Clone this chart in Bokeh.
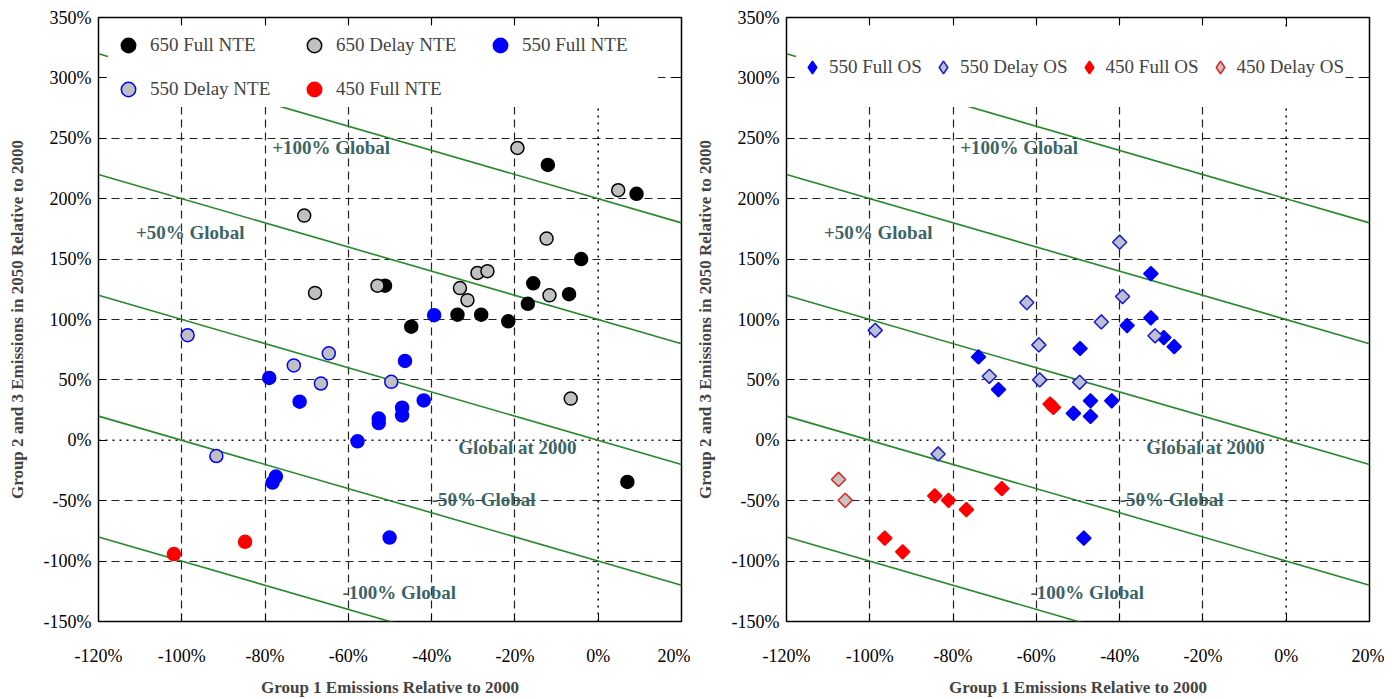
from math import pi

from bokeh.plotting import figure
from bokeh.layouts import row
from bokeh.models import (ColumnDataSource, FixedTicker, LinearAxis, Legend,
                          LegendItem, PrintfTickFormatter, Span)
from bokeh.core.properties import value
from bokeh.embed import file_html
from bokeh.resources import INLINE

FONT = "Liberation Serif"
TEXT_TEAL = "#3b6565"
LINE_GREEN = "#27882a"

# left panel: NTE scenarios (group 1 change %, groups 2+3 change %)
nte650_full_x = [-12.1, 9.2, -4.1, -51.2, -15.6, -7.0, -16.9, -33.8, -28.1, -21.6, -44.9, 7.0]
nte650_full_y = [228, 204, 150, 128, 130, 121, 113, 104, 104, 98.5, 94, -34.5]
nte650_delay_x = [-19.4, 4.8, -70.6, -12.4, -29.0, -26.6, -68.0, -53.0, -33.2, -31.4, -11.7, -6.6]
nte650_delay_y = [242, 207, 186, 167, 138.5, 140, 122, 128, 126, 116, 120, 34.5]
nte550_full_x = [-39.4, -46.4, -79.0, -71.7, -47.1, -47.1, -52.7, -52.7, -41.9, -57.8, -77.4, -78.2, -50.1]
nte550_full_y = [103.6, 65.7, 51.6, 32, 27, 20.6, 18, 14.3, 33, -0.8, -30, -35, -80.5]
nte550_delay_x = [-98.6, -64.7, -73.1, -66.6, -49.7, -91.7]
nte550_delay_y = [87, 72, 62, 47, 48.4, -13]
nte450_full_x = [-84.8, -101.9]
nte450_full_y = [-84, -94.2]

# right panel: OS scenarios
os550_full_x = [-32.5, -32.5, -38.2, -29.4, -26.9, -49.5, -73.9, -69.1, -47.0, -41.9, -51.1, -47.0, -48.6]
os550_full_y = [138, 101.4, 95, 85, 77.5, 76, 69, 42, 32.7, 32.7, 22.3, 19.8, -81]
os550_delay_x = [-40.0, -39.3, -62.3, -44.4, -98.7, -59.4, -31.5, -71.3, -59.2, -49.6, -83.6]
os550_delay_y = [164, 119, 114, 98, 91, 79, 86.5, 53, 50, 48, -11.3]
os450_full_x = [-56.7, -55.9, -68.3, -84.4, -81.1, -76.8, -96.4, -92.1]
os450_full_y = [30, 27.2, -40, -46, -49.7, -57.4, -81, -92.3]
os450_delay_x = [-107.5, -105.9]
os450_delay_y = [-32.4, -49.7]

# iso-global-emission lines: y = offset - x
iso_offsets = [200, 100, 0, -100, -200]
iso_labels = ["+100% Global", "+50% Global", "Global at 2000", "-50% Global", "-100% Global"]
iso_label_x = [-78.3, -111.0, -33.6, -40.0, -61.4]
iso_label_y = [242, 172, -6, -49, -126]

x_ticks = [-120, -100, -80, -60, -40, -20, 0, 20]
y_ticks = [-150, -100, -50, 0, 50, 100, 150, 200, 250, 300, 350]
x_grid = [-100, -80, -60, -40, -20]
y_grid = [-100, -50, 50, 100, 150, 200, 250, 300]
X_RANGE = (-120, 20)
Y_RANGE = (-150, 350)


def mirror_axis(ticks):
    # inward ticks only, labels switched off
    return LinearAxis(ticker=FixedTicker(ticks=ticks), major_label_text_font_size="1px",
                      major_label_text_color=None, major_tick_in=8, major_tick_out=0,
                      minor_tick_line_color=None, axis_line_color=None,
                      major_label_standoff=0)


def make_panel(left_border, right_border):
    p = figure(frame_width=583, frame_height=604, x_range=X_RANGE, y_range=Y_RANGE,
               min_border_left=left_border, min_border_right=right_border,
               min_border_top=17, min_border_bottom=60,
               output_backend="svg", toolbar_location=None, tools="")
    p.outline_line_color = "black"
    p.outline_line_width = 1.5
    p.background_fill_color = "white"
    p.border_fill_color = "white"

    bottom_ax = p.below[0]
    left_ax = p.left[0]
    p.add_layout(mirror_axis(x_ticks), "above")
    p.add_layout(mirror_axis(y_ticks), "right")

    bottom_ax.axis_label = "Group 1 Emissions Relative to 2000"
    left_ax.axis_label = "Group 2 and 3 Emissions in 2050 Relative to 2000"
    for ax, ticks in ((bottom_ax, x_ticks), (left_ax, y_ticks)):
        ax.ticker = FixedTicker(ticks=ticks)
        ax.formatter = PrintfTickFormatter(format="%d%%")
        ax.major_label_text_font = FONT
        ax.major_label_text_font_size = "18px"
        ax.major_label_text_color = "black"
        ax.axis_label_text_font = FONT
        ax.axis_label_text_font_style = "bold"
        ax.axis_label_text_font_size = "17px"
        ax.axis_line_color = None
        ax.major_tick_in = 8
        ax.major_tick_out = 0
        ax.major_tick_line_color = "black"
        ax.minor_tick_line_color = None
    bottom_ax.major_label_standoff = 24
    bottom_ax.axis_label_standoff = 9
    left_ax.major_label_standoff = 7
    left_ax.axis_label_standoff = 14

    p.xgrid.ticker = FixedTicker(ticks=x_grid)
    p.ygrid.ticker = FixedTicker(ticks=y_grid)
    p.grid.grid_line_color = "#222222"
    p.grid.grid_line_dash = "8 5"
    p.grid.grid_line_width = 1.2
    for dim in ("width", "height"):
        p.add_layout(Span(location=0, dimension=dim, line_color="#111111",
                          line_dash="2 5", line_width=1.6, level="underlay"))

    xs = [list(X_RANGE) for _ in iso_offsets]
    ys = [[c - X_RANGE[0], c - X_RANGE[1]] for c in iso_offsets]
    p.multi_line(xs=xs, ys=ys, line_color=LINE_GREEN, line_width=1.6)

    lbl = ColumnDataSource(dict(x=iso_label_x, y=iso_label_y, t=iso_labels))
    p.text(x="x", y="y", text="t", source=lbl, text_font=value(FONT),
           text_font_style="bold", text_font_size="19px", text_color=TEXT_TEAL,
           text_baseline="middle", text_align="left")
    return p


left = make_panel(98, 9)
c1 = left.scatter(nte650_full_x, nte650_full_y, size=13, fill_color="black", line_color="black", line_width=1.5)
c2 = left.scatter(nte650_delay_x, nte650_delay_y, size=13, fill_color="#c0c0c0", line_color="black", line_width=1.5)
c3 = left.scatter(nte550_full_x, nte550_full_y, size=13, fill_color="#0000ff", line_color="#0000ff", line_width=1.5)
c4 = left.scatter(nte550_delay_x, nte550_delay_y, size=13, fill_color="#c0c0c0", line_color="#0000ff", line_width=1.5)
c5 = left.scatter(nte450_full_x, nte450_full_y, size=13, fill_color="#ff0000", line_color="#ff0000", line_width=1.5)
# legend fills column by column, so order items to read row by row
leg1 = Legend(items=[LegendItem(label="650 Full NTE", renderers=[c1]),
                     LegendItem(label="550 Delay NTE", renderers=[c4]),
                     LegendItem(label="650 Delay NTE", renderers=[c2]),
                     LegendItem(label="450 Full NTE", renderers=[c5]),
                     LegendItem(label="550 Full NTE", renderers=[c3])],
              ncols=3, location="top_left", margin=10, padding=2, spacing=8,
              glyph_width=40, glyph_height=36, label_standoff=2, label_width=136,
              label_text_font=FONT, label_text_font_size="19px",
              background_fill_color="white", background_fill_alpha=1.0,
              border_line_color=None)
left.add_layout(leg1)

right_p = make_panel(96, 15)
styles = [("#0000ff", "#0000ff"), ("#bcc0d4", "#1a1acc"), ("#ff0000", "#ff0000"), ("#c4c4c4", "#e02020")]
series = [(os550_full_x, os550_full_y), (os550_delay_x, os550_delay_y),
          (os450_full_x, os450_full_y), (os450_delay_x, os450_delay_y)]
names = ["550 Full OS", "550 Delay OS", "450 Full OS", "450 Delay OS"]
items = []
for (fill, line), (sx, sy), name in zip(styles, series, names):
    # legend swatch: the legend ignores marker angle, so a diamond marker stands
    # in for it; drawn first so the rotated squares sit on top of it
    swatch = right_p.scatter(sx, sy, marker="diamond", size=11, line_width=1.5,
                             fill_color=fill, line_color=line)
    right_p.scatter(sx, sy, marker="square", angle=pi / 4, size=10, line_width=1.5,
                    fill_color=fill, line_color=line)
    items.append(LegendItem(label=name, renderers=[swatch]))
leg2 = Legend(items=items, orientation="horizontal", location="top_left", margin=10,
              padding=2, spacing=5, glyph_width=32, glyph_height=80, label_standoff=1,
              label_text_font=FONT, label_text_font_size="19px",
              background_fill_color="white", background_fill_alpha=1.0,
              border_line_color=None)
right_p.add_layout(leg2)

layout = row(left, right_p)
open("out.html", "w").write(file_html(layout, INLINE))
